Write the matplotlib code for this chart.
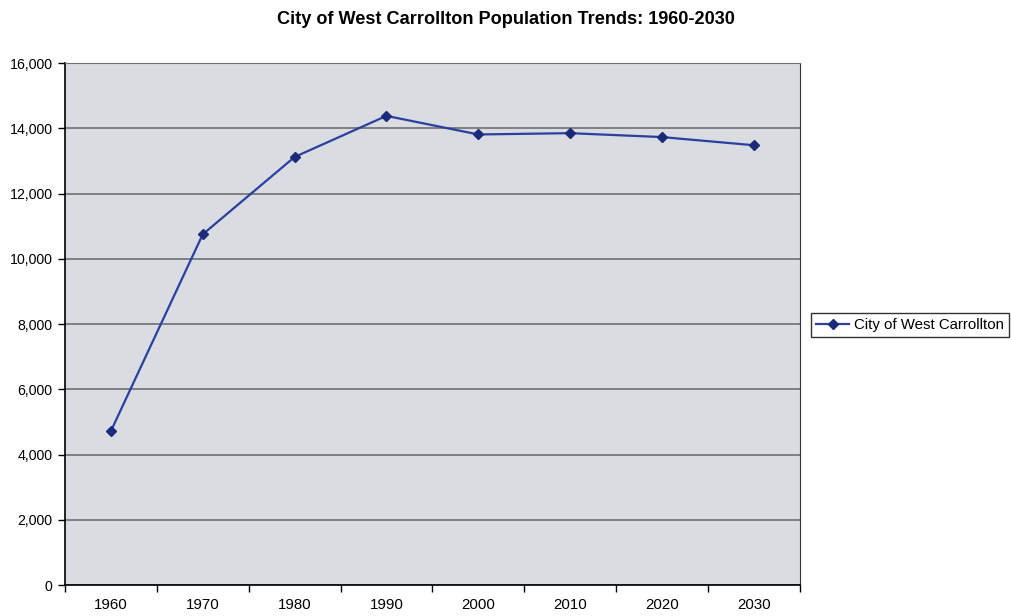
import matplotlib
matplotlib.use("Agg")
import matplotlib.pyplot as plt
from matplotlib.ticker import FuncFormatter, FixedLocator

years = ["1960", "1970", "1980", "1990", "2000", "2010", "2020", "2030"]
population = [4720, 10750, 13120, 14380, 13810, 13850, 13730, 13480]
series_name = "City of West Carrollton"
title = "City of West Carrollton Population Trends: 1960-2030"

plt.rcParams['font.family'] = ['Liberation Sans', 'DejaVu Sans']

fig = plt.figure(figsize=(10.11, 6.16), dpi=100)
ax = fig.add_axes([0.0643, 0.0503, 0.7267, 0.8474])
ax.set_facecolor('#d9dce1')

x = list(range(len(years)))
line, = ax.plot(x, population, color='#2b3f9f', lw=1.6, marker='D', ms=5,
                markerfacecolor='#1c2a7a', markeredgecolor='#1c2a7a', label=series_name, zorder=3)

ax.set_xlim(-0.5, len(years) - 0.5)
ax.set_ylim(0, 16000)
ax.set_yticks(range(0, 16001, 2000))
ax.yaxis.set_major_formatter(FuncFormatter(lambda v, p: f"{int(v):,}"))
ax.grid(axis='y', color='#6f6f6f', lw=1.2)
ax.set_axisbelow(True)

ax.set_xticks(x)
ax.set_xticklabels(years)
ax.tick_params(axis='x', which='major', length=0, pad=9, labelsize=10.8)
ax.xaxis.set_minor_locator(FixedLocator([i - 0.5 for i in range(len(years) + 1)]))
ax.tick_params(axis='x', which='minor', length=5, width=1, direction='out')
ax.tick_params(axis='y', length=5, width=1, direction='out', labelsize=10.2, pad=4)

for s in ['left', 'bottom']:
    ax.spines[s].set_color('black')
    ax.spines[s].set_linewidth(1.2)
ax.spines['right'].set_color('#333333')
ax.spines['top'].set_color('#6f6f6f')

fig.text(0.5, 0.982, title, ha='center', va='top', fontsize=13.1, fontweight='bold')

leg = fig.legend(handles=[line], loc='center', bbox_to_anchor=(0.9001, 0.4724),
                 frameon=True, fancybox=False, fontsize=10.8, handlelength=2.2,
                 borderpad=0.35, handletextpad=0.3, borderaxespad=0)
leg.get_frame().set_edgecolor('black')
leg.get_frame().set_linewidth(1.0)

fig.savefig('out.png', dpi=100)
